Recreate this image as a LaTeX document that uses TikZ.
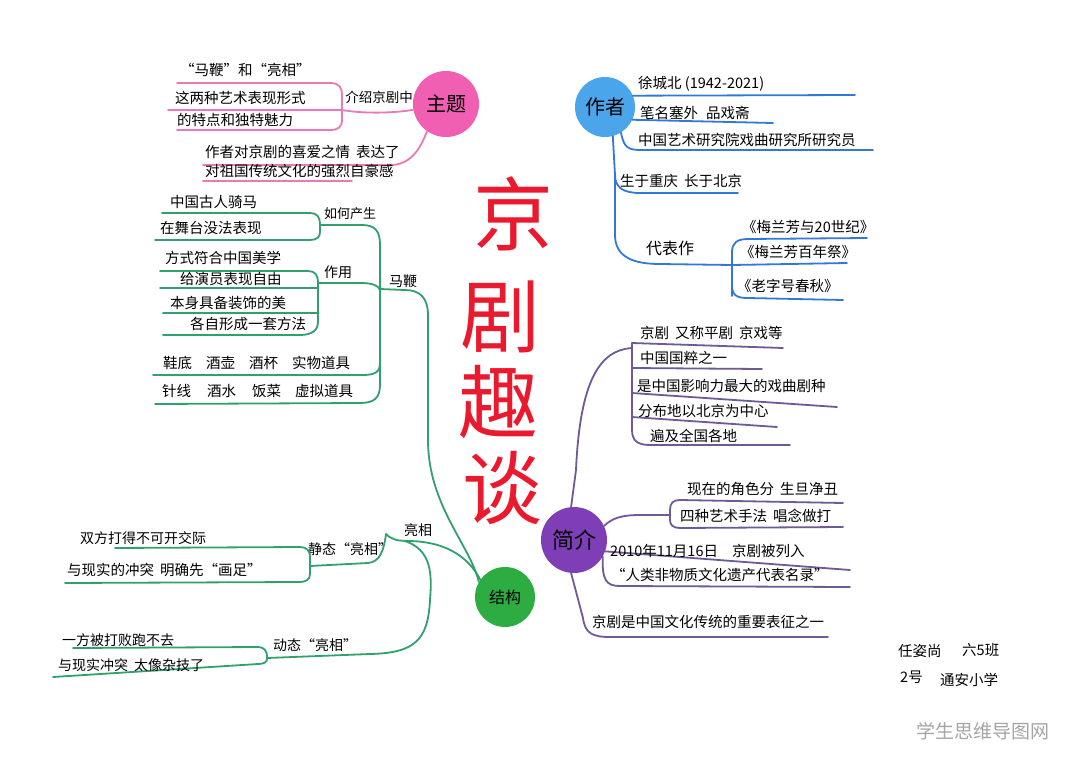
\documentclass[tikz,border=0pt]{standalone}
\usepackage{fontspec}
\setmainfont{Noto Sans CJK SC}
\definecolor{pinkl}{RGB}{236,120,180}
\definecolor{pinkf}{RGB}{240,95,178}
\definecolor{greenl}{RGB}{50,160,110}
\definecolor{greenf}{RGB}{45,172,65}
\definecolor{bluel}{RGB}{50,120,215}
\definecolor{bluef}{RGB}{75,165,235}
\definecolor{purpl}{RGB}{110,90,150}
\definecolor{purpf}{RGB}{125,62,182}
\definecolor{titlered}{RGB}{235,25,45}
\definecolor{wm}{RGB}{165,165,165}
\begin{document}
\begin{tikzpicture}[x=1pt,y=-1pt,
  txt/.style={anchor=west,inner sep=0pt,font=\fontsize{14.5}{15}\selectfont},
  lbl/.style={inner sep=0pt,font=\fontsize{14}{15}\selectfont},
  hub/.style={circle,inner sep=0pt,font=\fontsize{20}{20}\selectfont},
  pk/.style={draw=pinkl,line width=1.8pt,line cap=round},
  gn/.style={draw=greenl,line width=1.8pt,line cap=round},
  bl/.style={draw=bluel,line width=1.8pt,line cap=round},
  pu/.style={draw=purpl,line width=1.8pt,line cap=round},
  ttl/.style={inner sep=0pt,text=titlered,font=\fontsize{80}{80}\selectfont}]
\useasboundingbox (0,0) rectangle (1080,769);
\fill[white] (0,0) rectangle (1080,769);

% ---------- title ----------
\node[ttl] (t1) at (513,214) {京};
\node[ttl] (t2) at (500,317) {剧};
\node[ttl] (t3) at (498,402) {趣};
\node[ttl] (t4) at (502,488) {谈};

% ---------- 主题 (pink) ----------
\node[hub,fill=pinkf,minimum size=66] (zt) at (446,104) {主题};
\node[lbl,font=\fontsize{13.5}{14}\selectfont] (ztl) at (379,97) {介绍京剧中};
\coordinate (pj) at (342,110);
\draw[pk] (pj) .. controls (365,114) and (395,113) .. (zt.190);
\draw[pk] (177,83) -- (330,83) .. controls (340,83) and (342,88) .. (342,96) -- (342,120) .. controls (342,127) and (338,130) .. (330,130) -- (177,130);
\draw[pk] (168,110) -- (pj);
\node[txt] (zt1) at (180,70) {“马鞭”和“亮相”};
\node[txt] (zt2) at (175,98) {这两种艺术表现形式};
\node[txt] (zt3) at (177,120) {的特点和独特魅力};
\draw[pk] (zt.235) .. controls (420,150) and (410,165) .. (390,165) -- (203,165);
\draw[pk] (203,181) -- (352,181);
\node[txt] (zt4) at (205,152) {作者对京剧的喜爱之情\hspace{6pt}表达了};
\node[txt] (zt5) at (205,171) {对祖国传统文化的强烈自豪感};

% ---------- 结构 (green) ----------
\node[hub,fill=greenf,minimum size=60,font=\fontsize{16}{16}\selectfont] (jg) at (505,597) {结构};
\node[lbl] (mb) at (403,281) {马鞭};
\coordinate (mj) at (380,289);
\draw[gn] (jg.150) .. controls (470,545) and (428,505) .. (428,440) -- (428,315) .. controls (428,298) and (420,290) .. (405,290) -- (mj);
% trunk
\draw[gn] (320,225) -- (362,225) .. controls (376,225) and (380,232) .. (380,245) -- (380,362) .. controls (380,372) and (376,375) .. (362,375) -- (153,375);
\draw[gn] (380,360) -- (380,385) .. controls (380,398) and (374,403) .. (360,403) -- (155,404);
% 如何产生
\node[lbl,font=\fontsize{13}{13}\selectfont] (rh) at (350,214) {如何产生};
\draw[gn] (162,213) -- (310,213) .. controls (317,213) and (320,217) .. (320,224) -- (320,232) .. controls (320,237) and (317,240) .. (310,240) -- (155,240);
\node[txt] (rh1) at (170,202) {中国古人骑马};
\node[txt] (rh2) at (160,228) {在舞台没法表现};
% 作用
\node[lbl] (zy) at (338,272) {作用};
\draw[gn] (318,283) -- (360,283) .. controls (372,283) and (378,285) .. (380,290);
\draw[gn] (160,271) -- (308,271) .. controls (315,271) and (318,275) .. (318,282) -- (318,322) .. controls (318,330) and (312,335) .. (300,335) -- (163,335);
\draw[gn] (160,288) -- (318,288);
\draw[gn] (163,313) -- (318,313);
\node[txt] (zy1) at (165,258) {方式符合中国美学};
\node[txt] (zy2) at (180,279) {给演员表现自由};
\node[txt] (zy3) at (170,303) {本身具备装饰的美};
\node[txt] (zy4) at (190,324) {各自形成一套方法};
\node[txt] (dj1) at (163,363) {鞋底\hspace{14pt}酒壶\hspace{14pt}酒杯\hspace{14pt}实物道具};
\node[txt] (dj2) at (162,391) {针线\hspace{16pt}酒水\hspace{16pt}饭菜\hspace{14pt}虚拟道具};

% 亮相
\node[lbl] (lx) at (418,530) {亮相};
\coordinate (lj) at (386,534);
\draw[gn] (lj) .. controls (392,540) and (398,541) .. (410,541) .. controls (450,542) and (470,560) .. (jg.145);
\draw[gn] (405,541) .. controls (432,550) and (432,575) .. (430,600) .. controls (428,640) and (415,653) .. (370,654) -- (267,658);
% 静态
\node[lbl] (jt) at (350,549) {静态“亮相”};
\draw[gn] (310,566) -- (368,563) .. controls (380,562) and (384,550) .. (lj);
\draw[gn] (115,548) -- (300,547) .. controls (307,547) and (310,551) .. (310,557) -- (310,574) .. controls (310,580) and (306,582) .. (298,582) -- (65,583);
\node[txt,font=\fontsize{14}{14}\selectfont] (jt1) at (80,538) {双方打得不可开交际};
\node[txt] (jt2) at (67,570) {与现实的冲突\hspace{6pt}明确先“画足”};
% 动态
\node[lbl] (dt) at (315,645) {动态“亮相”};
\draw[gn] (73,648) -- (258,647) .. controls (264,647) and (267,651) .. (267,656) -- (267,659) .. controls (267,662) and (264,664) .. (258,664) -- (53,677);
\node[txt,font=\fontsize{14}{14}\selectfont] (dt1) at (62,640) {一方被打败跑不去};
\node[txt,font=\fontsize{14}{14}\selectfont] (dt2) at (58,665) {与现实冲突\hspace{6pt}太像杂技了};

% ---------- 作者 (blue) ----------
\node[hub,fill=bluef,minimum size=60] (zz) at (605,107) {作者};
\draw[bl] (zz.22) -- (855,95);
\draw[bl] (zz.-25) -- (773,123);
\draw[bl] (zz.-58) .. controls (624,148) and (628,150) .. (642,150) -- (873,150);
\draw[bl] (zz.-75) -- (615,175) .. controls (615,188) and (624,193) .. (640,193) -- (738,193);
\draw[bl] (615,175) -- (615,235) .. controls (615,258) and (635,264) .. (660,264) -- (732,265);
\node[txt] (zz1) at (638,84) {徐城北 (1942-2021)};
\node[txt] (zz2) at (640,113) {笔名塞外\hspace{8pt}品戏斋};
\node[txt] (zz3) at (638,140) {中国艺术研究院戏曲研究所研究员};
\node[txt] (zz4) at (620,181) {生于重庆\hspace{6pt}长于北京};
\node[lbl,font=\fontsize{16}{16}\selectfont] (dbz) at (670,248) {代表作};
\draw[bl] (732,296) -- (732,252) .. controls (732,243) and (737,239) .. (748,239) -- (867,238);
\draw[bl] (732,265) -- (847,263);
\draw[bl] (732,285) .. controls (732,295) and (736,298) .. (748,298) -- (843,300);
\node[txt] (db1) at (742,227) {《梅兰芳与20世纪》};
\node[txt] (db2) at (740,252) {《梅兰芳百年祭》};
\node[txt] (db3) at (737,286) {《老字号春秋》};

% ---------- 简介 (purple) ----------
\node[hub,fill=purpf,minimum size=66,font=\fontsize{22}{22}\selectfont] (jj) at (574,540) {简介};
\draw[pu] (jj.95) -- (576,470) .. controls (580,380) and (600,350) .. (632,348);
\draw[pu] (632,343) -- (783,348);
\draw[pu] (632,343) -- (632,430) .. controls (632,441) and (638,445) .. (650,445) -- (790,445);
\draw[pu] (632,368) -- (762,369);
\draw[pu] (632,393) -- (837,407);
\draw[pu] (632,417) -- (777,427);
\node[txt] (jj1) at (640,333) {京剧\hspace{6pt}又称平剧\hspace{6pt}京戏等};
\node[txt] (jj2) at (640,358) {中国国粹之一};
\node[txt] (jj3) at (637,386) {是中国影响力最大的戏曲剧种};
\node[txt] (jj4) at (638,411) {分布地以北京为中心};
\node[txt] (jj5) at (650,436) {遍及全国各地};
\draw[pu] (jj.25) .. controls (612,518) and (622,515) .. (640,515) -- (670,515);
\draw[pu] (843,503) -- (680,500) .. controls (673,500) and (670,503) .. (670,510) -- (670,520) .. controls (670,525) and (673,528) .. (680,528) -- (843,527);
\node[txt] (jj6) at (687,489) {现在的角色分\hspace{6pt}生旦净丑};
\node[txt] (jj7) at (680,516) {四种艺术手法\hspace{6pt}唱念做打};
\draw[pu] (jj.-20) -- (850,570);
\draw[pu] (jj.-30) .. controls (602,580) and (606,586) .. (620,586) -- (850,587);
\node[txt] (jj8) at (610,551) {2010年11月16日\hspace{14pt}京剧被列入};
\node[txt] (jj9) at (611,575) {“人类非物质文化遗产代表名录”};
\draw[pu] (jj.-95) -- (583,618) .. controls (585,633) and (592,637) .. (610,637) -- (828,637);
\node[txt] (jj10) at (592,622) {京剧是中国文化传统的重要表征之一};

% ---------- signature ----------
\node[txt] (s1) at (898,651) {任姿尚};
\node[txt] (s2) at (962,650) {六5班};
\node[txt] (s3) at (900,677) {2号};
\node[txt] (s4) at (940,680) {通安小学};
\node[inner sep=0pt,text=wm,font=\fontsize{19}{19}\selectfont] (wmk) at (983,731) {学生思维导图网};
\end{tikzpicture}
\end{document}
